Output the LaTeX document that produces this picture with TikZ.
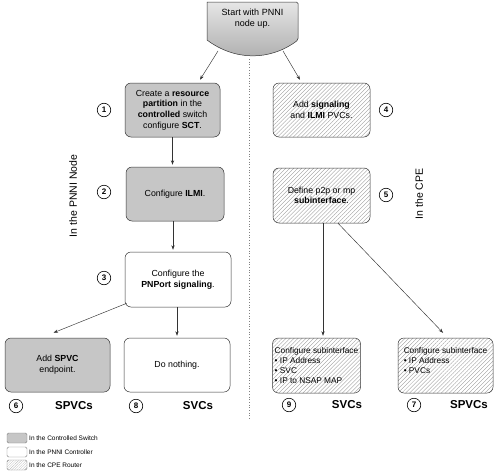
\documentclass[tikz,border=0pt]{standalone}
\usepackage{fontspec}
\setmainfont{Liberation Sans}
\usetikzlibrary{arrows.meta,patterns.meta,calc}
\begin{document}
\begin{tikzpicture}[x=1pt,y=-1pt,
  box/.style={draw=black!80, line width=0.5pt, rounded corners=6pt, align=center, inner sep=2pt,
    font=\fontsize{8.8}{10.7}\selectfont},
  greybox/.style={box, fill=gray!45},
  whitebox/.style={box, fill=white},
  hatchbox/.style={box, pattern={Lines[angle=45,distance=2.8pt,line width=0.35pt]}, pattern color=gray!80},
  listbox/.style={hatchbox, align=left, inner sep=1.5pt, font=\fontsize{8.3}{10.3}\selectfont},
  num/.style={draw, circle, line width=0.6pt, minimum size=13.5pt, inner sep=0pt, font=\bfseries\fontsize{8}{8}\selectfont},
  kind/.style={font=\bfseries\fontsize{11.5}{12}\selectfont},
  side/.style={font=\fontsize{10.5}{11}\selectfont, rotate=90},
  arr/.style={-{Stealth[length=4.5pt,width=3.2pt]}, line width=0.45pt, black!80},
  legsw/.style={draw=gray, line width=0.4pt, rounded corners=1.5pt, minimum width=20pt, minimum height=10pt, inner sep=0pt},
  legtxt/.style={anchor=west, inner sep=0pt, font=\fontsize{6.5}{7}\selectfont}
]
\useasboundingbox (0,0) rectangle (500,474);

% start shape
\path[draw=black!80, line width=0.5pt, top color=gray!20, bottom color=gray!65, rounded corners=1.5pt]
  (207,2) -- (298,2) -- (298,40) [sharp corners] .. controls (270,61) and (235,61) .. (207,40) -- cycle;
\node[align=center, font=\fontsize{9}{11}\selectfont] (start) at (252.5,19) {Start with PNNI\\node up.};
\coordinate (sl) at (218,51);
\coordinate (sr) at (283,51);

% divider
\coordinate (dtop) at (249,59);
\coordinate (dbot) at (249,419);
\draw[dotted, line width=0.7pt, gray] (dtop) -- (dbot);

% left column
\node[greybox, minimum width=95pt, minimum height=54pt] (b1) at (172.5,110)
  {Create a \textbf{resource}\\\textbf{partition} in the\\\textbf{controlled} switch\\configure \textbf{SCT}.};
\node[greybox, minimum width=98pt, minimum height=54pt] (b2) at (175,194) {Configure \textbf{ILMI}.};
\node[whitebox, minimum width=106pt, minimum height=55pt] (b3) at (178,279.5)
  {Configure the\\\textbf{PNPort signaling}.};
\node[greybox, minimum width=105pt, minimum height=54pt] (b6) at (57.5,365) {Add \textbf{SPVC}\\endpoint.};
\node[whitebox, minimum width=106pt, minimum height=54pt] (b8) at (177,365) {Do nothing.};

% right column
\node[hatchbox, minimum width=97pt, minimum height=54pt] (b4) at (321.5,110)
  {Add \textbf{signaling}\\and \textbf{ILMI} PVCs.};
\node[hatchbox, minimum width=97pt, minimum height=55pt] (b5) at (321.5,195.5)
  {Define p2p or mp\\\textbf{subinterface}.};
\node[listbox, minimum width=88pt, minimum height=55pt] (b9) at (316.5,365.5)
  {Configure subinterface\\• IP Address\\• SVC\\• IP to NSAP MAP};
\node[listbox, minimum width=95pt, minimum height=55pt] (b7) at (445.5,365.5)
  {Configure subinterface\\• IP Address\\• PVCs\\\mbox{}};

% numbers
\node[num] (n1) at (104,110) {1};
\node[num] (n2) at (104,192) {2};
\node[num] (n3) at (104,278) {3};
\node[num] (n4) at (386,110) {4};
\node[num] (n5) at (386,195) {5};
\node[num] (n6) at (16,406) {6};
\node[num] (n8) at (136,406) {8};
\node[num] (n9) at (289,405) {9};
\node[num] (n7) at (414,405) {7};

% kind labels
\node[kind] (k6) at (74,406) {SPVCs};
\node[kind] (k8) at (198,406) {SVCs};
\node[kind] (k9) at (347,405) {SVCs};
\node[kind] (k7) at (469,405) {SPVCs};

% side labels
\node[side] (pnni) at (73,196) {In the PNNI Node};
\node[side] (cpe) at (419,194) {In the CPE};

% connectors
\draw[arr] (sl) -- ($(b1.north)+(27.5,-3)$);
\draw[arr] (sr) -- ($(b4.north)+(-21.5,-3)$);
\draw[arr] (b1.south) -- ($(b1.south |- b2.north)+(0,-2)$);
\draw[arr] ($(b2.south)+(-2,0)$) -- ($(b2.south |- b3.north)+(-2,-2)$);
\draw[arr] ($(b3.south west)+(2,-4)$) -- ($(b6.north)+(-4,-5)$);
\draw[arr] (b8.north |- b3.south) -- ($(b8.north)+(0,-2)$);
\draw[arr] ($(b5.south)+(1.5,0)$) -- ($(b5.south |- b9.north)+(1.5,-2)$);
\draw[arr] ($(b5.south)+(16.5,0)$) -- ($(b7.north)+(-2.5,-5)$);

% legend
\node[legsw, fill=gray!45] (l1) at (17,438) {};
\node[legsw, fill=white] (l2) at (17,452) {};
\node[legsw, pattern={Lines[angle=45,distance=1.8pt,line width=0.25pt]}, pattern color=gray!60] (l3) at (17,465) {};
\node[legtxt] (t1) at (29,438) {In the Controlled Switch};
\node[legtxt] (t2) at (29,452) {In the PNNI Controller};
\node[legtxt] (t3) at (29,465) {In the CPE Router};
\end{tikzpicture}
\end{document}
